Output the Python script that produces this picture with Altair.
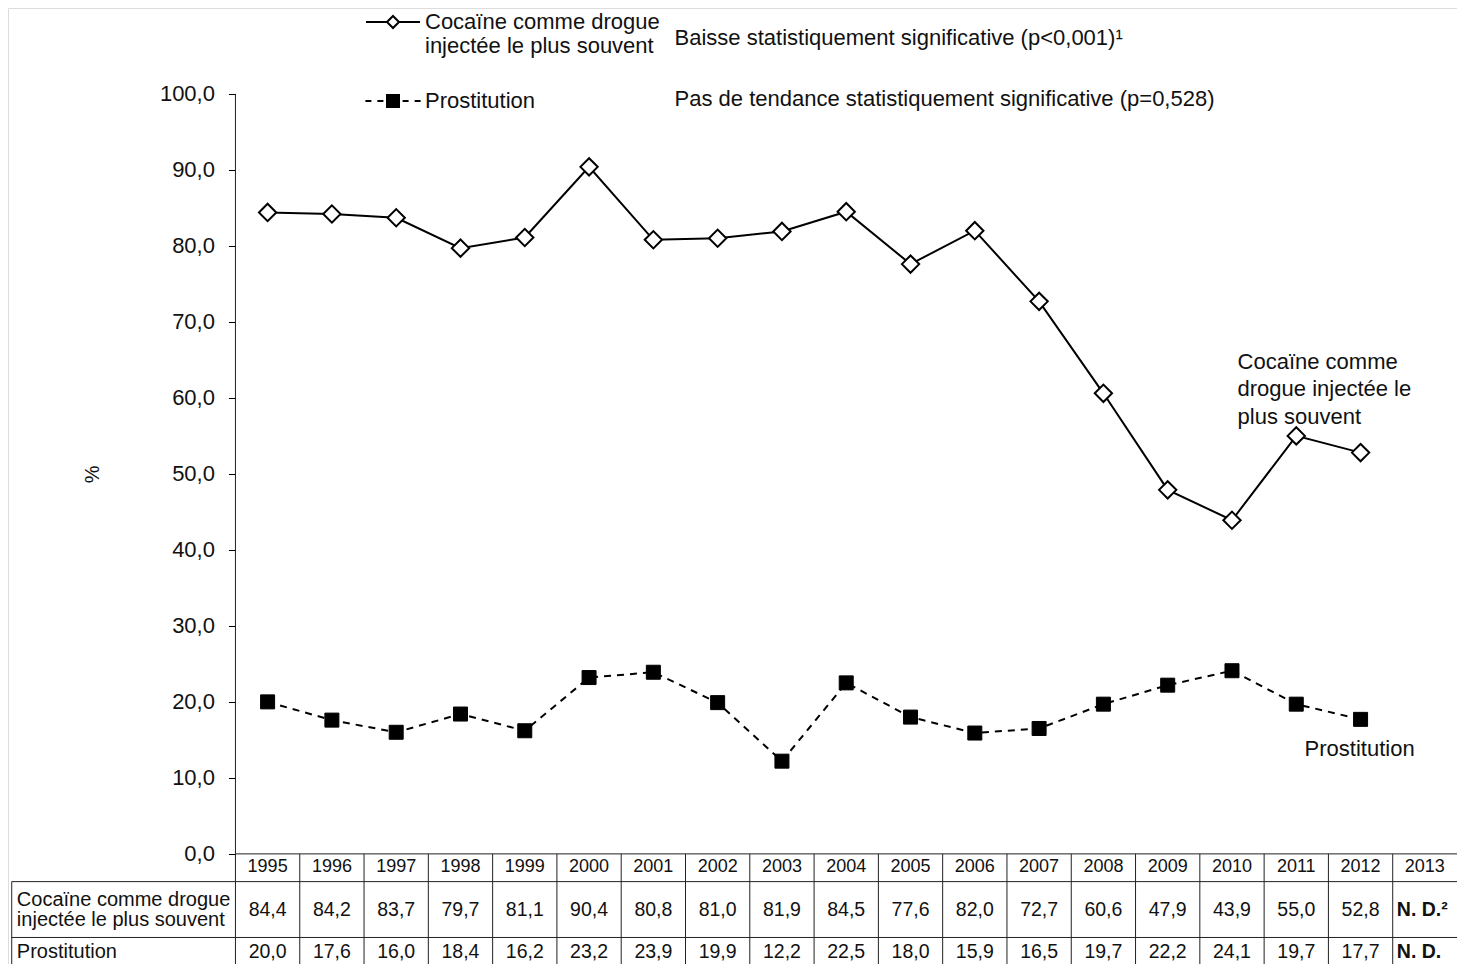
import json
import altair as alt
import pandas as pd

# ---------------- data ----------------
years = list(range(1995, 2014))
cocaine = [84.4, 84.2, 83.7, 79.7, 81.1, 90.4, 80.8, 81.0, 81.9, 84.5,
           77.6, 82.0, 72.7, 60.6, 47.9, 43.9, 55.0, 52.8, None]
prostitution = [20.0, 17.6, 16.0, 18.4, 16.2, 23.2, 23.9, 19.9, 12.2, 22.5,
                 18.0, 15.9, 16.5, 19.7, 22.2, 24.1, 19.7, 17.7, None]
series_keys = ["coc", "prost"]
legend_labels = [["Cocaïne comme drogue", "injectée le plus souvent"], "Prostitution"]
row_labels = ["Cocaïne comme drogue\ninjectée le plus souvent", "Prostitution"]
end_labels = ["Cocaïne comme\ndrogue injectée le\nplus souvent", "Prostitution"]
missing_labels = ["N. D.²", "N. D."]
trend_notes = ["Baisse statistiquement significative (p<0,001)¹",
               "Pas de tendance statistiquement significative (p=0,528)"]
y_ticks = [0.0, 10.0, 20.0, 30.0, 40.0, 50.0, 60.0, 70.0, 80.0, 90.0, 100.0]

# ---------------- layout constants ----------------
FONT = "Liberation Sans"
INK = "#111111"
W, H = 1449, 956
X0, X1 = 1990.962, 2013.5
Y1 = 111.3
Y0 = Y1 - H / 7.6
ROW_Y = {"header": -1.76, "coc": -7.4, "prost": -12.9}
ROW_EDGES = [-3.65, -11.0]
LABEL_COL_X = 1991.02
NOTE_X = 2001.33
NOTE_Y = [107.4, 99.35]


def px_x(v):
    return (v - X0) / (X1 - X0) * W


def px_y(v):
    return (Y1 - v) / (Y1 - Y0) * H


xs = alt.Scale(domain=[X0, X1], nice=False, zero=False)
ys = alt.Scale(domain=[Y0, Y1], nice=False, zero=False)
AXIS_X = px_x(years[0] - 0.5)

yaxis = alt.Axis(
    values=y_ticks, title="%", offset=-AXIS_X, domain=False, grid=False,
    ticks=True, tickSize=7, tickColor="black", tickWidth=1,
    labelFont=FONT, labelFontSize=22, labelColor=INK, labelPadding=14,
    labelOverlap=False,
    labelExpr="replace(format(datum.value, '.1f'), '.', ',')",
    titleFont=FONT, titleFontSize=20, titleFontWeight="normal", titleColor=INK,
    titleX=-143, titleY=px_y(50), titleAngle=270, titleAlign="center",
    titleBaseline="middle",
)


def X(f):
    return alt.X(f"{f}:Q", scale=xs, axis=None)


def Y(f):
    return alt.Y(f"{f}:Q", scale=ys, axis=yaxis)


# ---------------- tables ----------------
rows = []
for key, vals in zip(series_keys, [cocaine, prostitution]):
    for yr, v in zip(years, vals):
        rows.append({"series": key, "year": yr, "value": v})
df = pd.DataFrame(rows)
pts = df.dropna().reset_index(drop=True)

header_df = pd.DataFrame({"year": years, "ypos": ROW_Y["header"],
                          "txt": [str(y) for y in years]})
cell_rows, nd_rows = [], []
for key, vals, nd in zip(series_keys, [cocaine, prostitution], missing_labels):
    for yr, v in zip(years, vals):
        if v is None:
            nd_rows.append({"year": yr, "ypos": ROW_Y[key], "txt": nd})
        else:
            cell_rows.append({"year": yr, "ypos": ROW_Y[key],
                              "txt": f"{v:.1f}".replace(".", ",")})
cell_df = pd.DataFrame(cell_rows)
nd_df = pd.DataFrame(nd_rows)
rowlab_df = pd.DataFrame({"x": [LABEL_COL_X + 0.08] * 2,
                          "ypos": [ROW_Y[k] for k in series_keys],
                          "txt": row_labels,
                          "nlines": [t.count("\n") for t in row_labels]})

bounds = [y - 0.5 for y in years]
vrules = pd.DataFrame({"x": bounds, "y": [0.0] * len(bounds), "y2": [Y0] * len(bounds)})
vrules = pd.concat([vrules, pd.DataFrame({"x": [LABEL_COL_X], "y": [ROW_EDGES[0]], "y2": [Y0]})])
hrules = pd.DataFrame({"y": [0.0] + ROW_EDGES,
                       "x": [bounds[0], LABEL_COL_X, LABEL_COL_X],
                       "x2": [X1] * 3})
axis_rule = pd.DataFrame({"x": [bounds[0]], "y": [y_ticks[0]], "y2": [y_ticks[-1]]})

notes_df = pd.DataFrame({"x": [NOTE_X] * 2, "ypos": NOTE_Y, "txt": trend_notes})

last = pts.groupby("series").tail(1).set_index("series")
end_df = pd.DataFrame({"series": series_keys,
                       "year": [last.loc[k, "year"] for k in series_keys],
                       "value": [last.loc[k, "value"] for k in series_keys],
                       "txt": end_labels})

# ---------------- layers ----------------
RULE = dict(color="#222222", strokeWidth=1)
vr = alt.Chart(vrules).mark_rule(**RULE).encode(x=X("x"), y=Y("y"), y2="y2:Q")
hr = alt.Chart(hrules).mark_rule(**RULE).encode(x=X("x"), x2="x2:Q", y=Y("y"))
ar = alt.Chart(axis_rule).mark_rule(**RULE).encode(x=X("x"), y=Y("y"), y2="y2:Q")

coc_line = alt.Chart(pts).transform_filter("datum.series == 'coc'").mark_line(
    color="black", strokeWidth=2).encode(x=X("year"), y=Y("value"))
pro_line = alt.Chart(pts).transform_filter("datum.series == 'prost'").mark_line(
    color="black", strokeWidth=2, strokeDash=[7, 6]).encode(x=X("year"), y=Y("value"))
coc_pts = alt.Chart(pts).transform_filter("datum.series == 'coc'").mark_point(
    shape="diamond", filled=True, fill="white", stroke="black", strokeWidth=2,
    size=300, opacity=1).encode(x=X("year"), y=Y("value"))
pro_pts = alt.Chart(pts).transform_filter("datum.series == 'prost'").mark_point(
    shape="square", filled=True, fill="black", stroke="black", strokeWidth=1,
    size=196, opacity=1).encode(x=X("year"), y=Y("value"))

# legend symbols: line + marker drawn as custom paths (unit = 6px)
COC_PATH = ("M-4.5,0L-1,0M1,0L4.5,0"
            "M-1,0L0,-1L1,0L0,1Z")
PRO_PATH = ("M-4.6,0L-3.6,0M-2.6,0L-1.6,0"
            "M-1,-1L1,-1L1,1L-1,1Z"
            "M1.6,0L2.6,0M3.6,0L4.6,0")
label_expr = "datum.value == 'coc' ? {} : {}".format(
    json.dumps(legend_labels[0], ensure_ascii=False),
    json.dumps(legend_labels[1], ensure_ascii=False))
leg = alt.Legend(
    title=None, orient="none", legendX=374, legendY=3,
    symbolSize=144, symbolStrokeWidth=2, symbolStrokeColor="black",
    labelFont=FONT, labelFontSize=22, labelColor=INK, labelLimit=600,
    labelOffset=21, rowPadding=33, labelExpr=label_expr,
)
carrier = alt.Chart(pts).transform_filter("false").mark_point(
    filled=True, strokeWidth=2, opacity=1).encode(
    x=X("year"), y=Y("value"),
    shape=alt.Shape("series:N", scale=alt.Scale(domain=series_keys, range=[COC_PATH, PRO_PATH]),
                    legend=leg),
    fill=alt.Fill("series:N", scale=alt.Scale(domain=series_keys, range=["white", "black"]),
                  legend=leg),
    stroke=alt.Stroke("series:N", scale=alt.Scale(domain=series_keys, range=["black", "black"]),
                      legend=leg),
)

TXT = dict(font=FONT, color=INK)
header_t = alt.Chart(header_df).mark_text(fontSize=18, align="center", baseline="middle", **TXT).encode(
    x=X("year"), y=Y("ypos"), text="txt:N")
cell_t = alt.Chart(cell_df).mark_text(fontSize=19.5, align="center", baseline="middle", **TXT).encode(
    x=X("year"), y=Y("ypos"), text="txt:N")
nd_t = alt.Chart(nd_df).mark_text(fontSize=19.5, fontWeight="bold", align="left", baseline="middle",
                                  dx=-28, **TXT).encode(x=X("year"), y=Y("ypos"), text="txt:N")
rowlab2_t = alt.Chart(rowlab_df).transform_filter("datum.nlines == 1").mark_text(
    fontSize=20, align="left", baseline="middle", lineBreak="\n", lineHeight=20,
    dy=-10, **TXT).encode(x=X("x"), y=Y("ypos"), text="txt:N")
rowlab1_t = alt.Chart(rowlab_df).transform_filter("datum.nlines == 0").mark_text(
    fontSize=20, align="left", baseline="middle", **TXT).encode(
    x=X("x"), y=Y("ypos"), text="txt:N")
notes_t = alt.Chart(notes_df).mark_text(fontSize=22, align="left", baseline="middle", **TXT).encode(
    x=X("x"), y=Y("ypos"), text="txt:N")
end_coc = alt.Chart(end_df).transform_filter("datum.series == 'coc'").mark_text(
    fontSize=22, align="left", baseline="middle", lineBreak="\n", lineHeight=27.5,
    dx=-123, dy=-91, **TXT).encode(x=X("year"), y=Y("value"), text="txt:N")
end_pro = alt.Chart(end_df).transform_filter("datum.series == 'prost'").mark_text(
    fontSize=22, align="left", baseline="middle", dx=-56, dy=30, **TXT).encode(
    x=X("year"), y=Y("value"), text="txt:N")

chart = alt.layer(
    vr, hr, ar, coc_line, pro_line, coc_pts, pro_pts, carrier,
    header_t, cell_t, nd_t, rowlab2_t, rowlab1_t, notes_t, end_coc, end_pro,
).properties(
    width=W, height=H, padding=0, autosize=alt.AutoSizeParams(type="none"),
).configure_view(stroke="transparent").configure(background="white")

chart.save("out.html", embed_options={"renderer": "svg", "actions": False})
